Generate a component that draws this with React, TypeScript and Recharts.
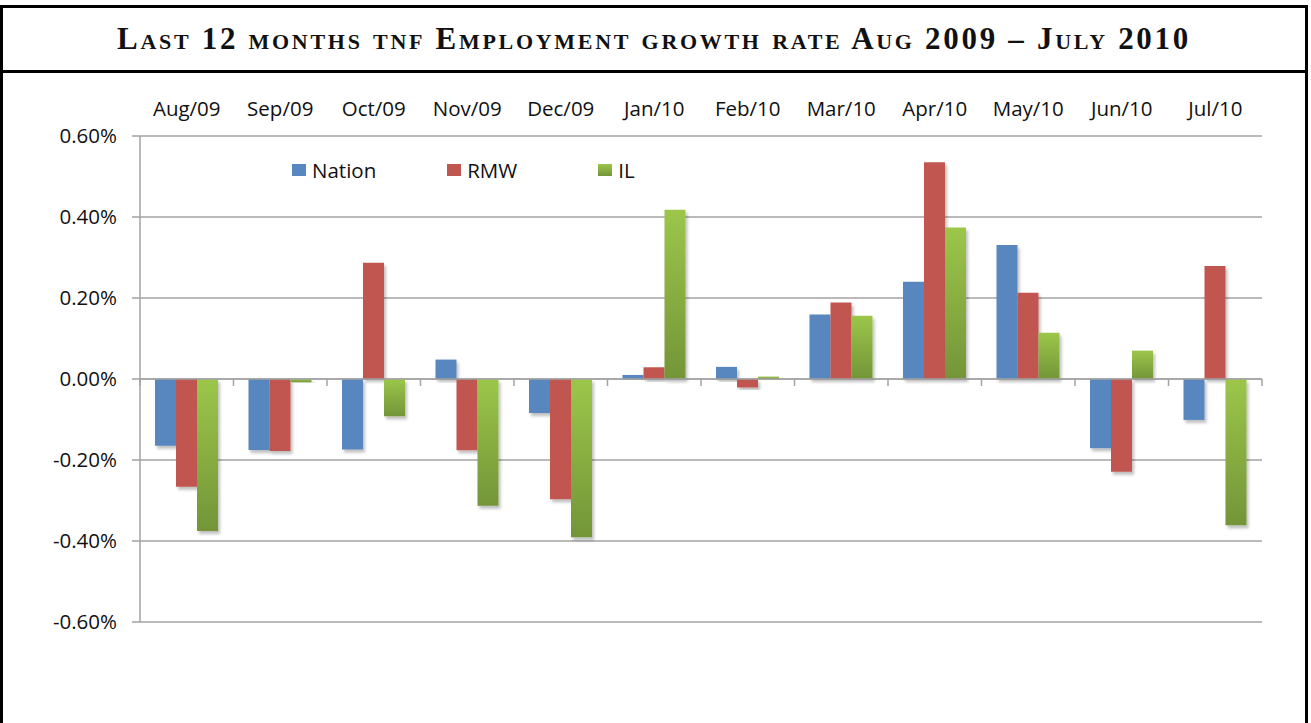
import React from 'react';
import { BarChart, Bar, XAxis, YAxis, CartesianGrid, ReferenceLine, Legend } from 'recharts';

const months = ['Aug/09', 'Sep/09', 'Oct/09', 'Nov/09', 'Dec/09', 'Jan/10', 'Feb/10', 'Mar/10', 'Apr/10', 'May/10', 'Jun/10', 'Jul/10'];
const nation = [-0.165, -0.175, -0.174, 0.048, -0.084, 0.010, 0.030, 0.159, 0.240, 0.331, -0.171, -0.101];
const rmw = [-0.266, -0.178, 0.287, -0.176, -0.297, 0.029, -0.021, 0.189, 0.535, 0.213, -0.229, 0.279];
const il = [-0.375, -0.008, -0.092, -0.313, -0.391, 0.418, 0.006, 0.156, 0.374, 0.114, 0.070, -0.361];
const yTicks = [-0.6, -0.4, -0.2, 0, 0.2, 0.4, 0.6];
const seriesNames = ['Nation', 'RMW', 'IL'];
const title = 'Last 12 months tnf Employment growth rate Aug 2009 – July 2010';

const data = months.map((m, i) => ({ month: m, Nation: nation[i], RMW: rmw[i], IL: il[i] }));

const BLUE = '#5886BF';
const RED = '#C0574F';
const GREEN_TOP = '#9CC64A';
const GREEN_BOT = '#739538';
const GRID = '#A3A3A3';
const FONT = '"Open Sans", "Noto Sans", sans-serif';
const FS = 20.5;
const legendGaps = [71, 81, 0];

const legendSwatch: Record<string, string> = {
  Nation: BLUE,
  RMW: RED,
  IL: `linear-gradient(to bottom, ${GREEN_TOP}, ${GREEN_BOT})`,
};

const renderLegend = () => (
  <div style={{ display: 'flex', alignItems: 'center', fontFamily: FONT, fontSize: FS, color: '#111' }}>
    {seriesNames.map((n, i) => (
      <div key={n} style={{ display: 'flex', alignItems: 'center', marginRight: legendGaps[i] }}>
        <span style={{ display: 'inline-block', width: 14, height: 12, background: legendSwatch[n], marginRight: 6 }} />
        <span>{n}</span>
      </div>
    ))}
  </div>
);

const ZeroAxis = (props: any) => {
  const { x1, y1, x2, y2 } = props;
  const n = months.length;
  const step = (x2 - x1) / n;
  const ticks = [];
  for (let i = 0; i <= n; i++) {
    const x = x1 + step * i;
    ticks.push(<line key={i} x1={x} y1={y1} x2={x} y2={y1 + 7} stroke={GRID} strokeWidth={1.5} />);
  }
  return (
    <g>
      <line x1={x1} y1={y1} x2={x2} y2={y2} stroke={GRID} strokeWidth={1.5} />
      {ticks}
    </g>
  );
};

export default function App() {
  return (
    <div style={{ position: 'fixed', left: 0, top: 0, width: 1311, height: 723, overflow: 'hidden', background: '#fff' }}>
      <div
        style={{
          position: 'absolute',
          left: 0,
          top: 5,
          width: 1308,
          height: 800,
          boxSizing: 'border-box',
          border: '3px solid #000',
        }}
      />
      <div
        style={{
          position: 'absolute',
          left: 0,
          top: 70,
          width: 1308,
          height: 3,
          background: '#000',
        }}
      />
      <div
        style={{
          position: 'absolute',
          left: 0,
          top: 8,
          width: 1308,
          height: 62,
          display: 'flex',
          alignItems: 'center',
          justifyContent: 'center',
          fontFamily: '"Liberation Serif", "DejaVu Serif", serif',
          fontWeight: 'bold',
          fontVariant: 'small-caps',
          fontSize: 31,
          letterSpacing: 2.7,
          color: '#111',
          whiteSpace: 'nowrap',
        }}
      >
        {title}
      </div>
      <div style={{ position: 'absolute', left: 0, top: 0 }}>
        <BarChart
          width={1311}
          height={723}
          data={data}
          margin={{ top: 0, right: 49, bottom: 101, left: 60 }}
          barSize={21}
          barGap={0}
        >
          <defs>
            <linearGradient id="greenGrad" x1="0" y1="0" x2="0" y2="1">
              <stop offset="0%" stopColor={GREEN_TOP} />
              <stop offset="100%" stopColor={GREEN_BOT} />
            </linearGradient>
            <filter id="barShadow" x="-20%" y="-10%" width="150%" height="130%">
              <feDropShadow dx="2" dy="3" stdDeviation="1.5" floodColor="#000" floodOpacity="0.25" />
            </filter>
          </defs>
          <CartesianGrid vertical={false} stroke={GRID} strokeWidth={1.5} />
          <XAxis
            dataKey="month"
            orientation="top"
            height={136}
            axisLine={false}
            tickLine={false}
            tickSize={0}
            tickMargin={20}
            interval={0}
            tick={{ fontFamily: FONT, fontSize: FS, fill: '#111' }}
          />
          <YAxis
            type="number"
            domain={[-0.6, 0.6]}
            ticks={yTicks}
            width={80}
            axisLine={{ stroke: GRID, strokeWidth: 1.5 }}
            tickLine={{ stroke: GRID, strokeWidth: 1.5 }}
            tickSize={8}
            tickMargin={15}
            tickFormatter={(v: number) => `${v.toFixed(2)}%`}
            tick={{ fontFamily: FONT, fontSize: FS, fill: '#111' }}
            allowDataOverflow
          />
          <Legend
            layout="horizontal"
            verticalAlign="middle"
            align="center"
            content={renderLegend}
            wrapperStyle={{ position: 'absolute', top: 156, left: 292, width: 'auto' }}
          />
          <Bar dataKey="Nation" fill={BLUE} isAnimationActive={false} filter="url(#barShadow)" />
          <Bar dataKey="RMW" fill={RED} isAnimationActive={false} filter="url(#barShadow)" />
          <Bar dataKey="IL" fill="url(#greenGrad)" isAnimationActive={false} filter="url(#barShadow)" />
          <ReferenceLine y={0} shape={ZeroAxis} />
        </BarChart>
      </div>
    </div>
  );
}
